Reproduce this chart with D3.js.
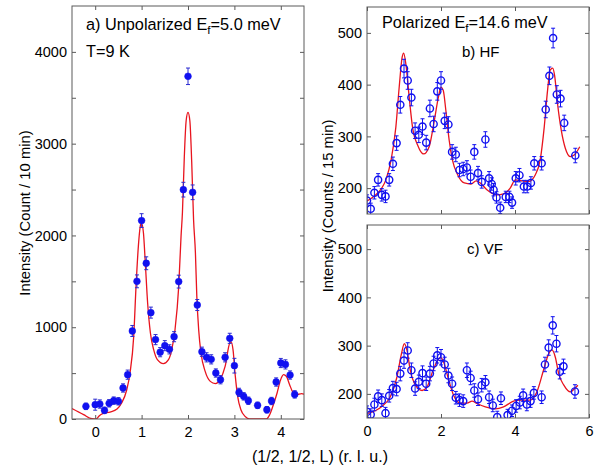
<!DOCTYPE html>
<html><head><meta charset="utf-8">
<script src="https://cdn.jsdelivr.net/npm/d3@7"></script>
<style>body{margin:0;background:#fff}svg{display:block}text{font-family:"Liberation Sans",Arial,sans-serif;fill:#000}</style>
</head><body><svg id="c" width="598" height="472"></svg>
<script>
// ---- Panel a: unpolarized, Ef = 5.0 meV ----
const aL   = [-0.2,0.0,0.1,0.2,0.3,0.4,0.5,0.6,0.7,0.8,0.9,1.0,1.1,1.2,1.3,1.4,1.5,1.6,1.7,1.8,1.9,2.0,2.1,2.2,2.3,2.4,2.5,2.6,2.7,2.8,2.9,3.0,3.1,3.2,3.3,3.5,3.7,3.8,3.9,4.0,4.1,4.2,4.3];
const aI   = [138,156,163,94,171,200,193,338,483,959,1500,2162,1697,1159,865,728,799,759,897,1497,2499,3734,2470,1242,733,672,650,501,428,672,879,581,290,247,199,149,101,196,403,610,595,479,268];
const aErr = [35,60,45,35,40,40,40,45,50,60,70,75,70,60,55,50,55,50,55,70,80,90,80,60,50,50,50,45,45,50,55,80,45,40,40,35,35,40,45,50,50,45,40];
const aFitL = [-0.5,-0.25,-0.07,0.02,0.09,0.16,0.32,0.47,0.57,0.68,0.75,0.83,0.88,0.93,0.98,1.0,1.04,1.08,1.13,1.19,1.26,1.34,1.47,1.58,1.65,1.72,1.8,1.85,1.88,1.92,1.96,2.0,2.04,2.08,2.12,2.16,2.19,2.23,2.28,2.37,2.48,2.59,2.69,2.8,2.9,2.93,2.97,3.02,3.07,3.14,3.23,3.33,3.5,3.69,3.76,3.84,3.92,3.99,4.06,4.12,4.19,4.25,4.34,4.45,4.5];
const aFitI = [113,47,3,0,36,58,76,109,174,319,501,900,1445,1881,2118,2130,2027,1700,1264,937,755,646,603,646,755,973,1445,1990,2250,2850,3250,3340,3250,2800,2172,1809,1336,973,719,519,410,385,428,573,828,840,755,464,246,101,29,0,0,0,47,156,283,418,483,464,374,301,265,276,270];
const aXTicks = [0,1,2,3,4];
const aYTicks = [0,1000,2000,3000,4000];
const aYMinor = [0,500,1000,1500,2000,2500,3000,3500,4000];

// ---- Panel b: polarized HF ----
const bL   = [0,0.1,0.2,0.3,0.4,0.5,0.6,0.7,0.8,0.9,1.0,1.1,1.2,1.3,1.4,1.5,1.6,1.7,1.8,1.9,2.0,2.1,2.2,2.3,2.4,2.5,2.6,2.7,2.8,2.9,3.0,3.1,3.2,3.3,3.37,3.42,3.5,3.6,3.75,3.85,3.92,4.02,4.12,4.24,4.33,4.43,4.52,4.72,4.83,4.93,5.03,5.13,5.23,5.33,5.63];
const bI   = [176,160,191,216,187,184,216,247,287,361,431,408,375,311,303,319,288,354,324,387,408,330,323,270,265,235,237,240,222,270,229,212,294,219,208,197,182,162,183,183,172,219,225,203,203,210,248,248,352,417,490,381,373,326,263];
const bErr = [11,11,12,12,12,12,12,13,14,16,18,17,16,15,15,15,14,16,15,17,17,15,15,14,14,13,13,13,13,14,13,12,15,13,12,12,11,11,11,11,11,13,13,12,12,12,13,13,16,17,19,17,16,15,14];
const bFitL = [0,0.2,0.38,0.51,0.65,0.78,0.87,0.95,0.99,1.05,1.14,1.23,1.37,1.53,1.68,1.82,1.93,2.0,2.06,2.13,2.22,2.31,2.45,2.63,2.81,2.95,3.06,3.24,3.51,3.69,3.87,4.01,4.19,4.37,4.55,4.68,4.79,4.88,4.95,5.02,5.07,5.15,5.25,5.36,5.49,5.6,5.75];
const bFitI = [175,185,198,216,254,318,395,453,461,440,376,318,283,266,280,331,376,395,389,351,293,254,226,210,208,214,210,197,187,189,200,216,214,213,226,254,318,389,428,432,418,363,312,277,261,264,280];

// ---- Panel c: polarized VF ----
const cL   = [0,0.1,0.2,0.3,0.4,0.5,0.6,0.7,0.8,0.9,1.0,1.1,1.2,1.3,1.4,1.5,1.6,1.7,1.8,1.9,2.0,2.1,2.2,2.3,2.4,2.5,2.6,2.7,2.8,2.9,3.0,3.1,3.2,3.3,3.4,3.52,3.62,3.8,3.92,4.03,4.13,4.22,4.32,4.42,4.51,4.72,4.81,4.91,5.02,5.12,5.21,5.31,5.62];
const cI   = [163,157,178,195,187,160,196,212,210,242,269,290,249,211,225,243,221,242,263,280,276,261,238,221,192,187,185,249,233,207,189,218,224,193,176,152,191,156,165,175,182,197,178,185,202,193,261,296,342,304,246,257,205];
const cErr = [12,12,13,13,13,12,13,14,14,15,16,16,15,14,14,15,14,15,15,16,16,15,15,14,13,13,13,15,14,14,13,14,14,13,13,12,13,12,12,13,13,13,13,13,13,13,15,16,18,17,15,15,14];
const cFitL = [0,0.4,0.63,0.81,0.93,1.01,1.08,1.17,1.31,1.49,1.62,1.8,1.94,2.0,2.07,2.21,2.34,2.52,2.7,2.84,2.97,3.2,3.47,3.69,3.96,4.14,4.41,4.59,4.77,4.91,5.0,5.09,5.18,5.32,5.5,5.61,5.7];
const cFitI = [159,174,194,235,283,304,290,249,218,207,214,252,273,275,266,228,197,181,181,185,180,173,169,173,185,187,187,204,249,283,291,276,242,218,204,211,218];
const rXTicks = [0,2,4,6];
const rYTicks = [200,300,400,500];

const svg = d3.select("#c");
const FRAME = "#5a5a5a", BLUE = "#1010f0", RED = "#e8141e";
const FS = 14.5;
const fmt = d3.format("d");

function panel(o){
  const g = svg.append("g");
  const x = d3.scaleLinear().domain(o.xd).range([o.left,o.right]);
  const y = d3.scaleLinear().domain(o.yd).range([o.bottom,o.top]);
  const id = "clip"+o.name;
  svg.append("clipPath").attr("id",id).append("rect")
     .attr("x",o.left).attr("y",o.top).attr("width",o.right-o.left).attr("height",o.bottom-o.top);
  g.append("path").datum(o.fitL.map((v,i)=>[v,o.fitI[i]]))
    .attr("clip-path",`url(#${id})`)
    .attr("fill","none").attr("stroke",RED).attr("stroke-width",1.3)
    .attr("d",d3.line().x(d=>x(d[0])).y(d=>y(d[1])).curve(d3.curveMonotoneX));
  const pts = o.L.map((v,i)=>({l:v,v:o.I[i],e:o.E[i]}));
  const eb = g.append("g").attr("clip-path",`url(#${id})`).attr("stroke",o.filled?"#2b2bd0":BLUE).attr("stroke-width",1);
  pts.forEach(p=>{
    const cx=x(p.l), y1=y(p.v+p.e), y0=y(p.v-p.e);
    eb.append("line").attr("x1",cx).attr("x2",cx).attr("y1",y1).attr("y2",y0);
    eb.append("line").attr("x1",cx-2).attr("x2",cx+2).attr("y1",y1).attr("y2",y1);
    eb.append("line").attr("x1",cx-2).attr("x2",cx+2).attr("y1",y0).attr("y2",y0);
  });
  g.append("g").attr("clip-path",`url(#${id})`).selectAll("circle").data(pts).join("circle")
    .attr("cx",d=>x(d.l)).attr("cy",d=>y(d.v)).attr("r",o.filled?3.4:3.6)
    .attr("fill",o.filled?BLUE:"none").attr("stroke",BLUE).attr("stroke-width",o.filled?0.5:1.4);
  const tl = 4;
  const ax = [
    [d3.axisBottom(x).tickValues(o.xt).tickSize(-tl).tickPadding(8).tickFormat(d=>o.xlabels?fmt(d):""), `translate(0,${o.bottom})`],
    [d3.axisTop(x).tickValues(o.xt).tickSize(-tl).tickFormat(""), `translate(0,${o.top})`],
    [d3.axisLeft(y).tickValues(o.ytMinor).tickSize(-tl).tickPadding(5).tickFormat(d=>o.yt.includes(d)?fmt(d):""), `translate(${o.left},0)`],
    [d3.axisRight(y).tickValues(o.ytMinor).tickSize(-tl).tickFormat(""), `translate(${o.right},0)`]
  ];
  ax.forEach(([a,t])=>{
    const gg = g.append("g").attr("transform",t).call(a);
    gg.select(".domain").remove();
    gg.selectAll("line").attr("stroke",FRAME);
    gg.selectAll("text").attr("font-size",FS).attr("font-family",'"Liberation Sans",Arial,sans-serif').attr("fill","#000");
  });
  g.append("rect").attr("x",o.left).attr("y",o.top).attr("width",o.right-o.left).attr("height",o.bottom-o.top)
    .attr("fill","none").attr("stroke",FRAME).attr("stroke-width",1);
  return {x,y,g};
}

panel({name:"a",xd:[-0.5,4.5],yd:[0,4500],left:72,right:304,top:6,bottom:419,
  L:aL,I:aI,E:aErr,fitL:aFitL,fitI:aFitI,filled:true,xt:aXTicks,yt:aYTicks,ytMinor:aYMinor,xlabels:true});
panel({name:"b",xd:[0,6],yd:[150,550],left:367,right:589,top:7,bottom:214,
  L:bL,I:bI,E:bErr,fitL:bFitL,fitI:bFitI,filled:false,xt:rXTicks,yt:rYTicks,ytMinor:rYTicks,xlabels:false});
panel({name:"c",xd:[0,6],yd:[150,550],left:367,right:589,top:225,bottom:418,
  L:cL,I:cI,E:cErr,fitL:cFitL,fitI:cFitI,filled:false,xt:rXTicks,yt:rYTicks,ytMinor:rYTicks,xlabels:true});

const TFS = 16.3;
function sub(x, y, pre, s, post){
  const tx = svg.append("text").attr("x",x).attr("y",y).attr("font-size",TFS);
  tx.append("tspan").text(pre);
  tx.append("tspan").attr("font-size",TFS*0.72).attr("dy",4).text(s);
  tx.append("tspan").attr("dy",-4).text(post);
}
sub(86, 30, "a) Unpolarized E", "f", "=5.0 meV");
svg.append("text").attr("x",86).attr("y",57).attr("font-size",TFS).text("T=9 K");
sub(382, 28, "Polarized E", "f", "=14.6 meV");
svg.append("text").attr("x",462).attr("y",57).attr("font-size",15).text("b) HF");
svg.append("text").attr("x",467).attr("y",254).attr("font-size",15).text("c) VF");

svg.append("text").attr("transform","translate(30,213) rotate(-90)").attr("text-anchor","middle")
  .attr("font-size",14.8).text("Intensity (Count / 10 min)");
svg.append("text").attr("transform","translate(333,206) rotate(-90)").attr("text-anchor","middle")
  .attr("font-size",14.8).text("Intensity (Counts / 15 min)");
svg.append("text").attr("x",320).attr("y",462).attr("text-anchor","middle")
  .attr("font-size",16).text("(1/2, 1/2, L) (r. l. u.)");
</script></body></html>
